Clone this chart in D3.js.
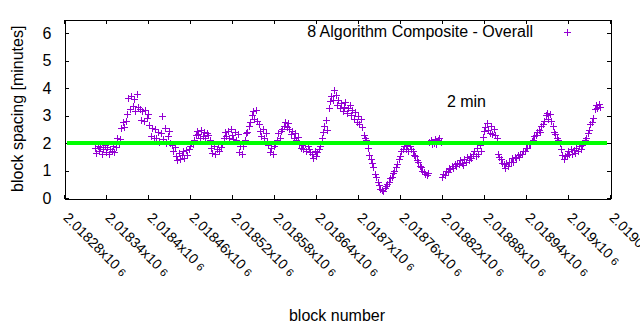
<!DOCTYPE html>
<html>
<head>
<meta charset="utf-8">
<script src="https://cdn.jsdelivr.net/npm/d3@7"></script>
<style>
  body { margin: 0; background: #fff; }
  svg { display: block; font-family: "Liberation Sans", Arial, sans-serif; }
</style>
</head>
<body>
<svg width="640" height="330"></svg>
<script>
// block spacing (minutes) for every 2nd block, starting at firstBlock
var firstBlock = 2018324;
var blockStep = 2;
var spacing = [
  1.82,1.65,1.90,1.70,1.85,1.62,1.78,1.92,1.68,1.86,1.60,1.80,1.72,1.88,1.66,1.84,
  2.20,1.95,2.15, 2.55,2.75,2.60,2.80,
  3.05,3.65,3.25,3.72,3.35,3.62,3.15,3.78,3.30,
  3.25,2.85,3.15,2.80,3.20,2.90,3.05,
  2.65,2.25,2.55,2.20,2.50,2.18,2.40,
  2.05,2.35,3.00,2.15,2.55,2.02,2.25,2.45,2.00,
  1.92,1.72,1.85,
  1.52,1.38,1.65,1.42,1.58,1.70,1.45,1.75,1.55,1.80,
  1.88,2.02,1.95,2.12,
  2.28,2.45,2.32,2.20,2.48,2.25,2.42,2.18,2.38,2.30,2.12,
  1.82,1.65,1.90,1.62,1.78,1.95,1.72,1.85,1.98,
  2.18,2.40,2.25,2.45,2.20,2.52,2.28,2.15,2.40,2.12,2.32,
  1.68,1.90,1.62,1.88,
  2.12,2.35,2.42,2.62,2.78,
  3.02,3.18,2.88,3.22,2.82,2.68,
  2.45,2.25,2.52,2.18,2.38,2.08,
  1.92,1.68,1.82,1.62,1.88,1.98,
  2.12,2.35,2.18,2.45,2.52,2.62,
  2.78,2.58,2.72,2.52,
  2.32,2.45,2.18,2.38,2.12,2.22,
  1.98,1.82,1.92,1.78,1.95,1.72,1.88,1.78,1.68,
  1.62,1.45,1.72,1.52,1.68,1.78,1.88,
  2.18,2.42,2.62,2.85,2.48,
  3.28,3.52,3.72,3.58,3.92,3.75,3.38,3.58,3.28,
  3.45,3.18,3.32,3.48,3.08,3.28,3.38,
  3.02,3.22,2.88,3.12,2.78,2.98,2.68,2.88,2.58,
  2.28,2.18,2.12,
  1.82,1.58,1.42,1.28,
  1.12,0.88,0.78,0.58,
  0.48,0.32,0.28,0.25,0.38,0.42,
  0.52,0.58,0.72,0.78,0.92,0.98,1.12,1.22,
  1.42,1.52,1.72,1.78,
  1.88,1.78,1.92,1.72,1.88,1.78,1.72,1.58,
  1.52,1.38,1.32,1.18,
  1.12,0.98,0.95,0.88,0.85,0.92,
  2.05,2.12,1.95,2.02,2.15,1.98,2.10,2.20,2.05,
  0.78,0.88,0.85,0.98,0.95,1.08,1.05,1.15,1.08,1.22,1.18,1.28,1.22,1.38,
  1.28,1.20,1.42,1.32,1.48,1.38,1.52,1.45,1.62,
  1.72,1.52,1.82,1.62,1.92,1.72,
  2.22,2.45,2.58,2.72,2.48,2.38,2.62,2.32,2.52,2.28,2.18,
  1.62,1.48,1.42,1.28,1.22,1.10,1.28,
  1.18,1.32,1.30,1.45,1.32,1.48,1.45,1.58,1.48,1.62,1.60,1.72,1.70,1.82,1.82,1.95,1.98,
  2.08,2.12,2.25,2.28,2.42,2.48,2.42,2.62,2.68,
  2.82,3.02,3.08,2.88,3.05,2.82,
  2.62,2.42,2.32,2.18,2.12,2.02,
  1.78,1.58,1.42,1.52,
  1.58,1.72,1.62,1.78,1.60,1.75,1.65,1.82,1.70,1.88,1.78,1.92,
  2.02,2.12,2.18,2.38,2.48,2.68,2.78,2.92,
  3.25,3.38,3.28,3.42,3.30
];

var xTicks = [2018280, 2018340, 2018400, 2018460, 2018520, 2018580, 2018640,
              2018700, 2018760, 2018820, 2018880, 2018940, 2019000, 2019060];
var xTickMantissa = ["2.01828", "2.01834", "2.0184", "2.01846", "2.01852", "2.01858",
                     "2.01864", "2.0187", "2.01876", "2.01882", "2.01888", "2.01894",
                     "2.019", "2.01906"];
var xTickExponent = "6";
var yTicks = [0, 1, 2, 3, 4, 5, 6];
var target = 2;           // 2 minute reference line
var seriesName = "8 Algorithm Composite - Overall";

var points = spacing.map(function(v, i) { return [firstBlock + i * blockStep, v]; });

var svg = d3.select("svg");
var m = { left: 64, right: 610, top: 19.5, bottom: 198 };

var x = d3.scaleLinear().domain([xTicks[0], xTicks[xTicks.length - 1]]).range([m.left, m.right]);
var y = d3.scaleLinear().domain([0, 6.5]).range([m.bottom, m.top]);

var purple = "#9400d3";
var plus = "M-3.5,0H3.5M0,-3.5V3.5";

// axes with inward ticks on all four sides
var gx = svg.append("g").attr("transform", "translate(0," + (m.bottom + 0.5) + ")")
  .call(d3.axisBottom(x).tickValues(xTicks).tickSize(-4).tickSizeOuter(0).tickFormat(""));
gx.selectAll(".tick").append("text")
  .attr("text-anchor", "start")
  .attr("transform", "translate(-2,20) rotate(45)")
  .attr("font-size", 14)
  .text(function(d, i) { return xTickMantissa[i] + "x10"; })
  .append("tspan")
    .attr("dx", 4)
    .attr("font-size", 11)
    .text(xTickExponent);

svg.append("g").attr("transform", "translate(0," + m.top + ")")
  .call(d3.axisTop(x).tickValues(xTicks).tickSize(-4).tickSizeOuter(0).tickFormat(""));

svg.append("g").attr("transform", "translate(" + (m.left + 0.5) + ",0)")
  .call(d3.axisLeft(y).tickValues(yTicks).tickSize(-4).tickSizeOuter(0).tickPadding(13)
        .tickFormat(d3.format("d")))
  .selectAll("text").attr("font-size", 16);

svg.append("g").attr("transform", "translate(" + (m.right + 0.5) + ",0)")
  .call(d3.axisRight(y).tickValues(yTicks).tickSize(-4).tickSizeOuter(0).tickFormat(""));

svg.selectAll(".tick text").attr("fill", "#000")
  .attr("font-family", "'Liberation Sans', Arial, sans-serif");
svg.selectAll(".domain, .tick line").attr("stroke", "#000").attr("shape-rendering", "crispEdges");

// data points
svg.append("g")
  .selectAll("path")
  .data(points)
  .enter().append("path")
    .attr("d", plus)
    .attr("transform", function(d) {
      return "translate(" + (Math.round(x(d[0])) + 0.5) + "," + (Math.round(y(d[1])) + 0.5) + ")";
    })
    .attr("stroke", purple)
    .attr("stroke-width", 1)
    .attr("fill", "none")
    .attr("shape-rendering", "crispEdges");

// 2 min line
svg.append("line")
  .attr("x1", m.left + 3).attr("x2", m.right - 3)
  .attr("y1", y(target)).attr("y2", y(target))
  .attr("stroke", "#00ff00")
  .attr("stroke-width", 4);

svg.append("text")
  .attr("x", x(2018827)).attr("y", y(3.33))
  .attr("font-size", 16)
  .text("2 min");

// legend
svg.append("text")
  .attr("x", 533).attr("y", 37)
  .attr("text-anchor", "end")
  .attr("font-size", 16)
  .text(seriesName);
svg.append("path")
  .attr("d", plus)
  .attr("transform", "translate(567.5,32.5)")
  .attr("stroke", purple)
  .attr("fill", "none")
  .attr("shape-rendering", "crispEdges");

// axis titles
svg.append("text")
  .attr("transform", "translate(23," + ((m.top + m.bottom) / 2) + ") rotate(-90)")
  .attr("text-anchor", "middle")
  .attr("font-size", 16)
  .text("block spacing [minutes]");

svg.append("text")
  .attr("x", (m.left + m.right) / 2).attr("y", 321)
  .attr("text-anchor", "middle")
  .attr("font-size", 16)
  .text("block number");
</script>
</body>
</html>
